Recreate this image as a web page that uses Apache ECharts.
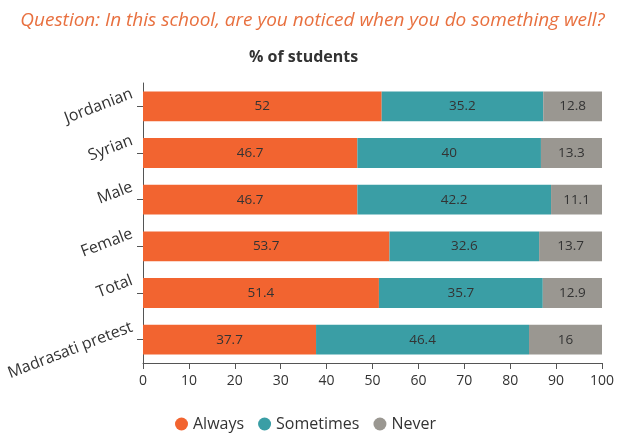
<!DOCTYPE html>
<html><head><meta charset="utf-8">
<script src="https://cdn.jsdelivr.net/npm/echarts@6/dist/echarts.min.js"></script>
<style>html,body{margin:0;padding:0;background:#fff}#c{width:625px;height:437px}</style>
</head><body><div id="c"></div>
<script>
const categories = ["Jordanian","Syrian","Male","Female","Total","Madrasati pretest"];
const always = [52,46.7,46.7,53.7,51.4,37.7];
const sometimes = [35.2,40,42.2,32.6,35.7,46.4];
const never = [12.8,13.3,11.1,13.7,12.9,16];
const xTicks = [0,10,20,30,40,50,60,70,80,90,100];

const font = "'Open Sans', sans-serif";
const chart = echarts.init(document.getElementById('c'));
function ser(name, data, color){
  return {name, type:'bar', stack:'s', data, barWidth:'64%',
    itemStyle:{color},
    label:{show:true, position:'inside', color:'#333', fontSize:13.5, fontFamily:font},
    emphasis:{disabled:true}};
}
chart.setOption({
  animation:false,
  title:[{text:'Question: In this school, are you noticed when you do something well?', left:'center', top:6,
    textStyle:{color:'#E8703F', fontStyle:'italic', fontWeight:'normal', fontSize:19, fontFamily:font}},
    {text:'% of students', left:244, top:44, textStyle:{color:'#333', fontWeight:'bold', fontSize:16, fontFamily:font}}],
  grid:{left:143, right:23, top:83, bottom:74, containLabel:false, outerBoundsMode:'none'},
  legend:{bottom:0, left:170, icon:'circle', itemWidth:13, itemHeight:13, itemGap:14,
    textStyle:{fontSize:16, color:'#333', fontFamily:font},
    data:['Always','Sometimes','Never']},
  xAxis:{type:'value', min:0, max:100, interval:10,
    axisLine:{show:true, lineStyle:{color:'#555'}}, axisTick:{show:true, length:6, lineStyle:{color:'#555'}},
    splitLine:{show:false},
    axisLabel:{color:'#333', fontSize:14, fontFamily:font, margin:11,
      formatter: v => xTicks.includes(v) ? String(v) : ''}},
  yAxis:{type:'category', data:categories, inverse:true,
    axisLine:{show:true, lineStyle:{color:'#555'}}, axisTick:{show:true, alignWithLabel:true, length:6, lineStyle:{color:'#555'}},
    axisLabel:{rotate:21, color:'#333', fontSize:16, fontFamily:font, margin:6, verticalAlign:'bottom', lineHeight:16, padding:[0,0,6,0]}},
  series:[ser('Always',always,'#F26430'), ser('Sometimes',sometimes,'#3A9EA5'), ser('Never',never,'#9A9791')]
});
</script></body></html>
